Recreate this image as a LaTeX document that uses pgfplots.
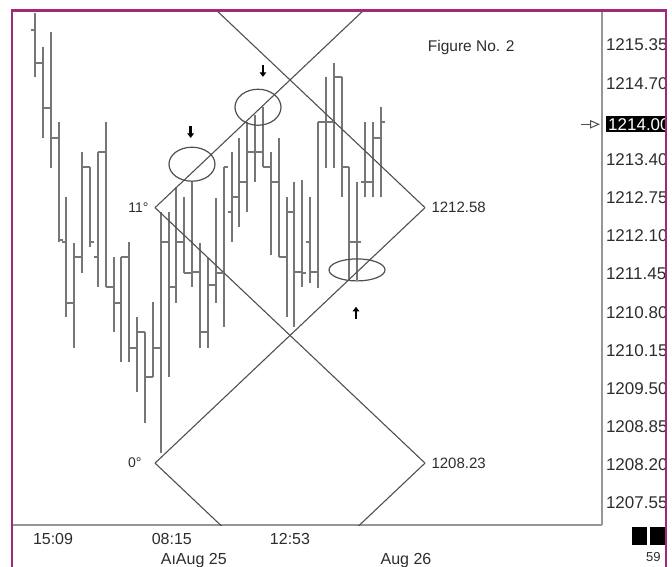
\documentclass[border=0pt]{standalone}
\usepackage{fontspec}
\setmainfont{Liberation Sans}
\usepackage{pgfplots}
\pgfplotsset{compat=1.18}
\usepackage{pgfplotstable}
\usetikzlibrary{arrows.meta}

\definecolor{frame}{RGB}{158,42,122}
\definecolor{barc}{RGB}{118,118,118}
\definecolor{linec}{RGB}{80,80,80}
\definecolor{axc}{RGB}{150,150,150}
\definecolor{txt}{RGB}{45,45,45}

% open tick to the left, close tick to the right
\pgfdeclareplotmark{otick}{\pgfpathmoveto{\pgfpoint{-4pt}{0pt}}\pgfpathlineto{\pgfpointorigin}\pgfusepathqstroke}
\pgfdeclareplotmark{ctick}{\pgfpathmoveto{\pgfpointorigin}\pgfpathlineto{\pgfpoint{4pt}{0pt}}\pgfusepathqstroke}

\pgfplotstableread{
i o h l c
1 1215.61 1215.90 1214.81 1215.04
2 1215.04 1215.32 1213.77 1214.28
3 1214.28 1215.57 1213.26 1213.77
4 1213.77 1214.04 1212.00 1212.03
5 1212.00 1212.76 1210.72 1210.96
6 1210.96 1211.98 1210.19 1211.74
7 1211.74 1213.53 1211.47 1213.27
8 1213.27 1213.27 1211.91 1212.00
9 1211.74 1213.53 1211.23 1213.53
10 1213.53 1214.04 1211.23 1211.23
11 1211.23 1211.74 1210.46 1210.96
12 1210.96 1211.74 1209.95 1211.74
13 1211.74 1212.00 1209.95 1210.19
14 1210.19 1210.72 1209.44 1210.46
15 1210.46 1210.46 1208.91 1209.70
16 1209.70 1210.97 1209.70 1210.19
17 1210.19 1212.51 1208.40 1212.00
18 1212.00 1212.51 1209.70 1211.23
19 1211.23 1212.93 1210.96 1212.00
20 1212.00 1212.76 1211.47 1211.47
21 1211.47 1213.02 1211.23 1211.48
22 1211.48 1211.98 1210.19 1210.46
23 1210.46 1211.72 1210.19 1211.26
24 1211.26 1212.74 1210.96 1211.47
25 1211.47 1213.27 1210.55 1213.27
26 1212.51 1213.53 1212.00 1212.76
27 1212.76 1213.77 1212.25 1213.02
28 1213.02 1214.04 1212.51 1213.53
29 1213.53 1214.16 1213.02 1213.53
30 1213.53 1214.29 1213.27 1213.27
31 1213.27 1213.53 1211.77 1213.02
32 1213.02 1213.77 1211.74 1211.74
33 1211.74 1212.76 1210.72 1212.51
34 1212.51 1213.02 1210.55 1211.48
35 1211.48 1213.05 1211.23 1211.47
36 1212.00 1212.76 1211.30 1211.48
37 1211.48 1214.04 1211.21 1214.04
38 1214.04 1214.81 1213.26 1214.04
39 1214.04 1215.04 1213.26 1214.81
40 1214.81 1214.81 1212.76 1213.27
41 1213.27 1213.27 1211.35 1212.00
42 1212.00 1213.02 1211.35 1212.00
43 1213.02 1214.04 1212.76 1213.02
44 1213.02 1214.04 1212.76 1213.77
45 1213.77 1214.29 1212.76 1214.04
}\bars

\begin{document}
\begin{tikzpicture}[x=1pt,y=1pt]
\useasboundingbox (0,0) rectangle (672,-567);
\fill[white] (0,0) rectangle (672,-567);
\begin{scope}
\clip (12,-10) rectangle (665,-567);
\begin{axis}[
    at={(12pt,-525pt)}, anchor=south west,
    width=590pt, height=515pt, scale only axis,
    xmin=-1.93, xmax=73.14,
    ymin=1207.176, ymax=1215.946,
    axis x line*=bottom, axis y line*=right,
    axis line style={draw=axc, line width=1.6pt},
    major tick length=0pt,
    ytick={1207.55,1208.20,1208.85,1209.50,1210.15,1210.80,1211.45,1212.10,1212.75,1213.40,1214.70,1215.35},
    scaled y ticks=false,
    yticklabel style={font=\fontsize{17}{19}\selectfont, text=txt, xshift=0.5pt,
        /pgf/number format/fixed, /pgf/number format/fixed zerofill,
        /pgf/number format/precision=2, /pgf/number format/1000 sep={},
        /pgf/number format/assume math mode=true},
    extra y ticks={1214.00},
    extra y tick style={yticklabel style={fill=black, text=white, inner sep=2pt, xshift=3.5pt}},
    xtick={3.29,18.4,33.44},
    xticklabels={15:09,08:15,12:53},
    xticklabel style={font=\fontsize{16}{18}\selectfont, text=txt, yshift=-5pt},
    extra x ticks={21.2,48.2},
    extra x tick labels={AıAug 25,Aug 26},
    extra x tick style={xticklabel style={yshift=-20pt}},
]
% high-low lines
\addplot[draw=none, mark=none, forget plot,
    error bars/.cd, y dir=minus, y explicit, error mark=none,
    error bar style={draw=barc, line width=2pt}]
    table[x=i, y=h, y error expr=\thisrow{h}-\thisrow{l}] {\bars};
% open and close ticks
\addplot[only marks, mark=otick, mark options={draw=barc, line width=1.8pt}] table[x=i, y=o] {\bars};
\addplot[only marks, mark=ctick, mark options={draw=barc, line width=1.8pt}] table[x=i, y=c] {\bars};

% square-of-price diamonds
\addplot[linec, line width=1.1pt] coordinates {(16.27,1212.58) (50.62,1216.93)};
\addplot[linec, line width=1.1pt] coordinates {(50.62,1212.58) (16.27,1216.93)};
\addplot[linec, line width=1.1pt] coordinates {(16.27,1212.58) (50.62,1208.23)};
\addplot[linec, line width=1.1pt] coordinates {(16.27,1208.23) (50.62,1212.58)};
\addplot[linec, line width=1.1pt] coordinates {(16.27,1208.23) (33.445,1206.055) (50.62,1208.23)};

\node[anchor=east, text=txt, font=\fontsize{14}{16}\selectfont] at ([xshift=-3pt]axis cs:16.27,1212.58) {11°};
\node[anchor=east, text=txt, font=\fontsize{14}{16}\selectfont] at ([xshift=-10pt]axis cs:16.27,1208.23) {0°};
\node[anchor=west, text=txt, font=\fontsize{15}{17}\selectfont] at ([xshift=3pt]axis cs:50.62,1212.58) {1212.58};
\node[anchor=west, text=txt, font=\fontsize{15}{17}\selectfont] at ([xshift=3pt]axis cs:50.62,1208.23) {1208.23};
\node[text=txt, font=\fontsize{15.5}{17}\selectfont] at (axis cs:56.5,1215.30) {Figure No. 2};

% marked swings
\draw[linec, line width=1.2pt] (axis cs:20.97,1213.32) ellipse [x radius=23pt, y radius=17pt];
\draw[linec, line width=1.2pt] (axis cs:29.37,1214.29) ellipse [x radius=23pt, y radius=18pt];
\draw[linec, line width=1.2pt] (axis cs:41.97,1211.52) ellipse [x radius=28pt, y radius=11pt];
\draw[black, line width=2.6pt, -{Triangle[width=6.5pt,length=4.5pt]}] ([yshift=6pt]axis cs:20.8,1213.87) -- ([yshift=-6pt]axis cs:20.8,1213.87);
\draw[black, line width=2.6pt, -{Triangle[width=6.5pt,length=4.5pt]}] ([yshift=6pt]axis cs:30.0,1214.91) -- ([yshift=-6pt]axis cs:30.0,1214.91);
\draw[black, line width=2.6pt, -{Triangle[width=6.5pt,length=4.5pt]}] ([yshift=-6pt]axis cs:41.84,1210.79) -- ([yshift=6pt]axis cs:41.84,1210.79);

% current price pointer
\draw[linec, line width=1pt] (axis cs:70.5,1214.00) -- (axis cs:71.7,1214.00);
\draw[linec, line width=1pt] ([yshift=3.5pt]axis cs:71.7,1214.00) -- ([xshift=8pt]axis cs:71.7,1214.00) -- ([yshift=-3.5pt]axis cs:71.7,1214.00) -- cycle;
\end{axis}
\fill[black] (632,-527) rectangle (647,-545);
\fill[black] (650,-527) rectangle (665,-545);
\node[anchor=north west, inner sep=0pt, text=txt, font=\fontsize{13}{15}\selectfont] at (646,-552) {59};
\end{scope}
\draw[frame, line width=2.6pt] (12,-567) -- (12,-10.5) -- (666,-10.5) -- (666,-567);
\end{tikzpicture}
\end{document}
